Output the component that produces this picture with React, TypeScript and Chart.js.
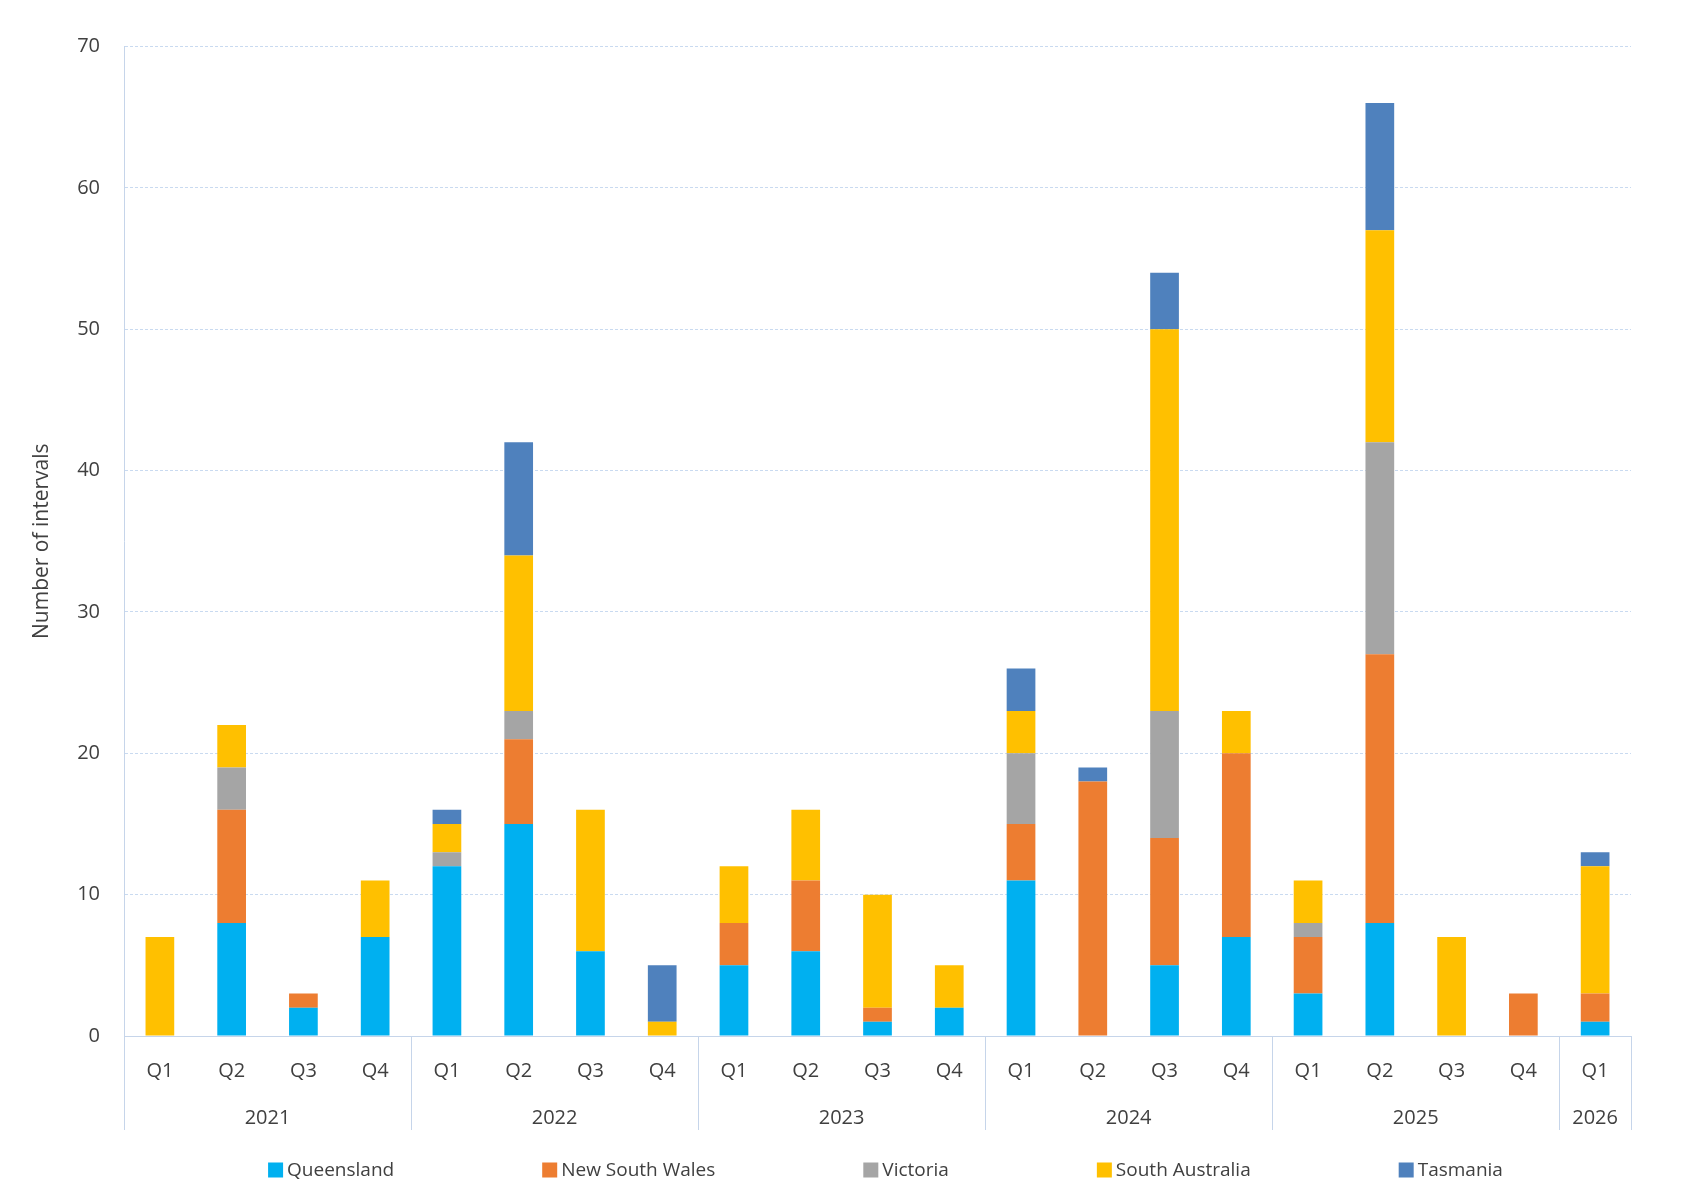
import React, { useEffect, useRef } from "react";
import { Chart, registerables } from "chart.js";

Chart.register(...registerables);

const quarterLabels = ["Q1","Q2","Q3","Q4","Q1","Q2","Q3","Q4","Q1","Q2","Q3","Q4","Q1","Q2","Q3","Q4","Q1","Q2","Q3","Q4","Q1"];
const yearLabels = ["2021","2021","2021","2021","2022","2022","2022","2022","2023","2023","2023","2023","2024","2024","2024","2024","2025","2025","2025","2025","2026"];

const queensland     = [0, 8, 2, 7, 12, 15, 6, 0, 5, 6, 1, 2, 11, 0, 5, 7, 3, 8, 0, 0, 1];
const newSouthWales  = [0, 8, 1, 0, 0, 6, 0, 0, 3, 5, 1, 0, 4, 18, 9, 13, 4, 19, 0, 3, 2];
const victoria       = [0, 3, 0, 0, 1, 2, 0, 0, 0, 0, 0, 0, 5, 0, 9, 0, 1, 15, 0, 0, 0];
const southAustralia = [7, 3, 0, 4, 2, 11, 10, 1, 4, 5, 8, 3, 3, 0, 27, 3, 3, 15, 7, 0, 9];
const tasmania       = [0, 0, 0, 0, 1, 8, 0, 4, 0, 0, 0, 0, 3, 1, 4, 0, 0, 9, 0, 0, 1];

const yTicks = [0, 10, 20, 30, 40, 50, 60, 70];
const yTitle = "Number of intervals";

const FONT = "'Open Sans', 'Noto Sans', sans-serif";
const TEXT = "#404040";
const AXIS = "#C6D5EA";
const GRID = "#C9DAF0";

const groupPlugin = {
  id: "yearGroups",
  afterDraw(chart: any) {
    const { ctx, chartArea } = chart;
    const x = chart.scales.x;
    const bottom = chartArea.bottom;
    const lineEnd = bottom + 94;
    const half = (x.getPixelForValue(1) - x.getPixelForValue(0)) / 2;
    ctx.save();
    const groups: { year: string; start: number; end: number }[] = [];
    yearLabels.forEach((y, i) => {
      const g = groups[groups.length - 1];
      if (g && g.year === y) g.end = i;
      else groups.push({ year: y, start: i, end: i });
    });
    ctx.strokeStyle = AXIS;
    ctx.lineWidth = 1;
    const bounds: number[] = [];
    groups.forEach((g, k) => {
      if (k === 0) bounds.push(x.getPixelForValue(g.start) - half);
      bounds.push(x.getPixelForValue(g.end) + half);
    });
    bounds.forEach((bx) => {
      const px = Math.round(bx) + 0.5;
      ctx.beginPath();
      ctx.moveTo(px, bottom);
      ctx.lineTo(px, lineEnd);
      ctx.stroke();
    });
    ctx.fillStyle = TEXT;
    ctx.font = `20px ${FONT}`;
    ctx.textAlign = "center";
    ctx.textBaseline = "middle";
    groups.forEach((g) => {
      const cx = (x.getPixelForValue(g.start) + x.getPixelForValue(g.end)) / 2;
      ctx.fillText(g.year, cx, bottom + 82);
    });

    ctx.font = `19px ${FONT}`;
    const box = 15;
    const boxGap = 4;
    const itemGap = 148;
    const items = chart.data.datasets.map((d: any) => ({
      label: d.label as string,
      color: d.backgroundColor as string,
      w: box + boxGap + ctx.measureText(d.label).width,
    }));
    const total = items.reduce((s: number, it: any) => s + it.w, 0) + itemGap * (items.length - 1);
    let cx = (chartArea.left + chartArea.right) / 2 + 8 - total / 2;
    const ly = 1170;
    ctx.textAlign = "left";
    items.forEach((it: any) => {
      ctx.fillStyle = it.color;
      ctx.fillRect(cx, ly - box / 2, box, box);
      ctx.fillStyle = TEXT;
      ctx.fillText(it.label, cx + box + boxGap, ly + 1);
      cx += it.w + itemGap;
    });
    ctx.restore();
  },
};

export default function App() {
  const ref = useRef<HTMLCanvasElement | null>(null);
  useEffect(() => {
    if (!ref.current) return;
    const chart = new Chart(ref.current, {
      type: "bar",
      data: {
        labels: quarterLabels,
        datasets: [
          { label: "Queensland", data: queensland, backgroundColor: "#00B0F0" },
          { label: "New South Wales", data: newSouthWales, backgroundColor: "#ED7D31" },
          { label: "Victoria", data: victoria, backgroundColor: "#A5A5A5" },
          { label: "South Australia", data: southAustralia, backgroundColor: "#FFC000" },
          { label: "Tasmania", data: tasmania, backgroundColor: "#4F81BD" },
        ],
      },
      options: {
        responsive: false,
        animation: false,
        devicePixelRatio: 1,
        layout: { padding: { left: 0, right: 54, top: 46.5, bottom: 71 } },
        datasets: { bar: { barPercentage: 0.4, categoryPercentage: 1, borderWidth: 0 } },
        plugins: { legend: { display: false }, tooltip: { enabled: false }, title: { display: false } },
        scales: {
          x: {
            stacked: true,
            grid: { display: false, drawTicks: false },
            border: { display: true, color: AXIS, width: 1 },
            ticks: { color: TEXT, font: { family: FONT, size: 20 }, padding: 23, maxRotation: 0, autoSkip: false },
            afterFit: (s: any) => { s.height = 94; },
          },
          y: {
            stacked: true,
            min: 0,
            max: 70,
            afterBuildTicks: (s: any) => { s.ticks = yTicks.map((v) => ({ value: v })); },
            grid: { color: (c: any) => (c.tick && c.tick.value === 0 ? "rgba(0,0,0,0)" : GRID), lineWidth: 1, drawTicks: false },
            border: { display: true, color: AXIS, width: 1, dash: [3, 2] },
            ticks: { color: TEXT, font: { family: FONT, size: 20 }, padding: 24 },
            title: { display: true, text: yTitle, color: TEXT, font: { family: FONT, size: 21 }, padding: { top: 29, bottom: 0 } },
            afterFit: (s: any) => { s.width = 124; },
          },
        },
      },
      plugins: [groupPlugin],
    });
    return () => chart.destroy();
  }, []);
  return (
    <div style={{ position: "fixed", left: 0, top: 0, width: 1685, height: 1201, background: "#fff" }}>
      <canvas ref={ref} width={1685} height={1201} style={{ display: "block" }} />
    </div>
  );
}
